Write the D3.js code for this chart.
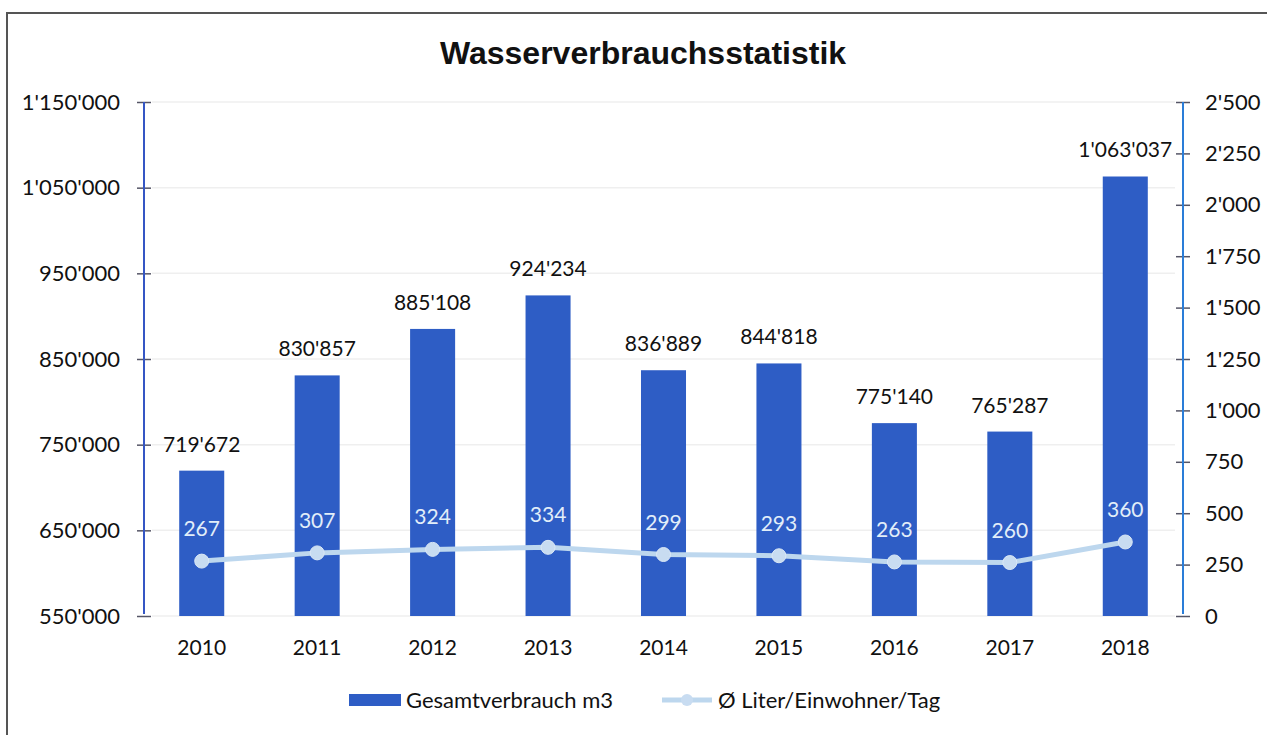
<!DOCTYPE html>
<html>
<head>
<meta charset="utf-8">
<script src="https://cdn.jsdelivr.net/npm/d3@7"></script>
<style>
  body { margin: 0; background: #fff; }
  text { font-family: Lato, "Noto Sans", sans-serif; }
</style>
</head>
<body>
<div id="chart"></div>
<script>
var svgWidth = 1267;
var svgHeight = 735;

// data
var years = ["2010", "2011", "2012", "2013", "2014", "2015", "2016", "2017", "2018"];
var totalM3 = [719672, 830857, 885108, 924234, 836889, 844818, 775140, 765287, 1063037];
var literPerDay = [267, 307, 324, 334, 299, 293, 263, 260, 360];
var leftTicks = [550000, 650000, 750000, 850000, 950000, 1050000, 1150000];
var rightTicks = [0, 250, 500, 750, 1000, 1250, 1500, 1750, 2000, 2250, 2500];

var plot = { left: 144, right: 1183, top: 102, bottom: 616 };

var barColor = "#2e5dc5";
var lineColor = "#bdd7ee";

var locale = d3.formatLocale({ decimal: ".", thousands: "'", grouping: [3], currency: ["", ""] });
var fmt = locale.format(",");

var svg = d3.select("#chart")
  .append("svg")
  .attr("width", svgWidth)
  .attr("height", svgHeight);

// frame
svg.append("path")
  .attr("d", "M7,740 L7,13 L1275,13")
  .attr("fill", "none")
  .attr("stroke", "#555")
  .attr("stroke-width", 2);

// title
svg.append("text")
  .attr("x", 643)
  .attr("y", 64)
  .attr("text-anchor", "middle")
  .style("font-family", "'Liberation Sans', Arial, sans-serif")
  .style("font-weight", "bold")
  .style("font-size", "32px")
  .attr("fill", "#111")
  .text("Wasserverbrauchsstatistik");

// scales
var xScale = d3.scaleBand()
  .domain(years)
  .range([plot.left, plot.right])
  .paddingInner(0.61)
  .paddingOuter(0.305);

var yLeft = d3.scaleLinear()
  .domain([550000, 1150000])
  .range([plot.bottom, plot.top]);

var yRight = d3.scaleLinear()
  .domain([0, 2500])
  .range([plot.bottom, plot.top]);

// gridlines
svg.append("g")
  .selectAll("line")
  .data(leftTicks)
  .enter()
  .append("line")
  .attr("x1", plot.left + 8)
  .attr("x2", plot.right - 8)
  .attr("y1", d => yLeft(d))
  .attr("y2", d => yLeft(d))
  .attr("stroke", "#efefef")
  .attr("stroke-width", 1.5);

// bars
svg.append("g")
  .selectAll("rect")
  .data(years)
  .enter()
  .append("rect")
  .attr("x", d => xScale(d))
  .attr("width", xScale.bandwidth())
  .attr("y", (d, i) => yLeft(totalM3[i]))
  .attr("height", (d, i) => plot.bottom - yLeft(totalM3[i]))
  .attr("fill", barColor);

// bar labels
svg.append("g")
  .selectAll("text")
  .data(years)
  .enter()
  .append("text")
  .attr("x", d => xScale(d) + xScale.bandwidth() / 2)
  .attr("y", (d, i) => yLeft(totalM3[i]) - 19)
  .attr("text-anchor", "middle")
  .style("font-size", "21px")
  .attr("fill", "#111")
  .text((d, i) => fmt(totalM3[i]));

// line series
var cx = d => xScale(d) + xScale.bandwidth() / 2;
var line = d3.line()
  .x((d, i) => cx(years[i]))
  .y(d => yRight(d));

svg.append("path")
  .datum(literPerDay)
  .attr("d", line)
  .attr("fill", "none")
  .attr("stroke", lineColor)
  .attr("stroke-width", 5);

svg.append("g")
  .selectAll("circle")
  .data(literPerDay)
  .enter()
  .append("circle")
  .attr("cx", (d, i) => cx(years[i]))
  .attr("cy", d => yRight(d))
  .attr("r", 7)
  .attr("fill", "#c8dcf1")
  .attr("stroke", "#dbe8f6")
  .attr("stroke-width", 1);

svg.append("g")
  .selectAll("text")
  .data(literPerDay)
  .enter()
  .append("text")
  .attr("x", (d, i) => cx(years[i]))
  .attr("y", d => yRight(d) - 25)
  .attr("text-anchor", "middle")
  .style("font-size", "21px")
  .attr("fill", "#e2eef9")
  .text(d => fmt(d));

// left axis
var leftAxis = d3.axisLeft(yLeft)
  .tickValues(leftTicks)
  .tickFormat(fmt)
  .tickSize(0)
  .tickPadding(24);

var gL = svg.append("g")
  .attr("transform", `translate(${plot.left}, 0)`)
  .call(leftAxis);
gL.select(".domain").remove();
gL.append("line")
  .attr("y1", plot.top)
  .attr("y2", plot.bottom - 2)
  .attr("stroke", "#3556c4")
  .attr("stroke-width", 2);
gL.selectAll(".tick").append("line")
  .attr("x1", -7)
  .attr("x2", 7)
  .attr("stroke", "#556")
  .attr("stroke-width", 1.5);
gL.selectAll(".tick text")
  .style("font-family", "Lato, sans-serif")
  .style("font-size", "22px")
  .attr("fill", "#111");

// right axis
var rightAxis = d3.axisRight(yRight)
  .tickValues(rightTicks)
  .tickFormat(fmt)
  .tickSize(0)
  .tickPadding(22);

var gR = svg.append("g")
  .attr("transform", `translate(${plot.right}, 0)`)
  .call(rightAxis);
gR.select(".domain").remove();
gR.append("line")
  .attr("y1", plot.top)
  .attr("y2", plot.bottom - 2)
  .attr("stroke", "#2a7dd8")
  .attr("stroke-width", 2);
gR.selectAll(".tick").append("line")
  .attr("x1", -7)
  .attr("x2", 7)
  .attr("stroke", "#556")
  .attr("stroke-width", 1.5);
gR.selectAll(".tick text")
  .style("font-family", "Lato, sans-serif")
  .style("font-size", "22px")
  .attr("fill", "#111");

// x axis labels
svg.append("g")
  .selectAll("text")
  .data(years)
  .enter()
  .append("text")
  .attr("x", d => cx(d))
  .attr("y", 655)
  .attr("text-anchor", "middle")
  .style("font-size", "21px")
  .attr("fill", "#111")
  .text(d => d);

// legend
var legend = svg.append("g");
legend.append("rect")
  .attr("x", 349)
  .attr("y", 694)
  .attr("width", 52)
  .attr("height", 12)
  .attr("fill", barColor);
legend.append("text")
  .attr("x", 406)
  .attr("y", 708)
  .style("font-size", "22px")
  .attr("fill", "#111")
  .text("Gesamtverbrauch m3");
legend.append("line")
  .attr("x1", 662)
  .attr("x2", 712)
  .attr("y1", 700)
  .attr("y2", 700)
  .attr("stroke", lineColor)
  .attr("stroke-width", 5);
legend.append("circle")
  .attr("cx", 687)
  .attr("cy", 700)
  .attr("r", 6)
  .attr("fill", "#c8dcf1");
legend.append("text")
  .attr("x", 718)
  .attr("y", 708)
  .style("font-size", "22px")
  .attr("fill", "#111")
  .text("Ø Liter/Einwohner/Tag");
</script>
</body>
</html>
